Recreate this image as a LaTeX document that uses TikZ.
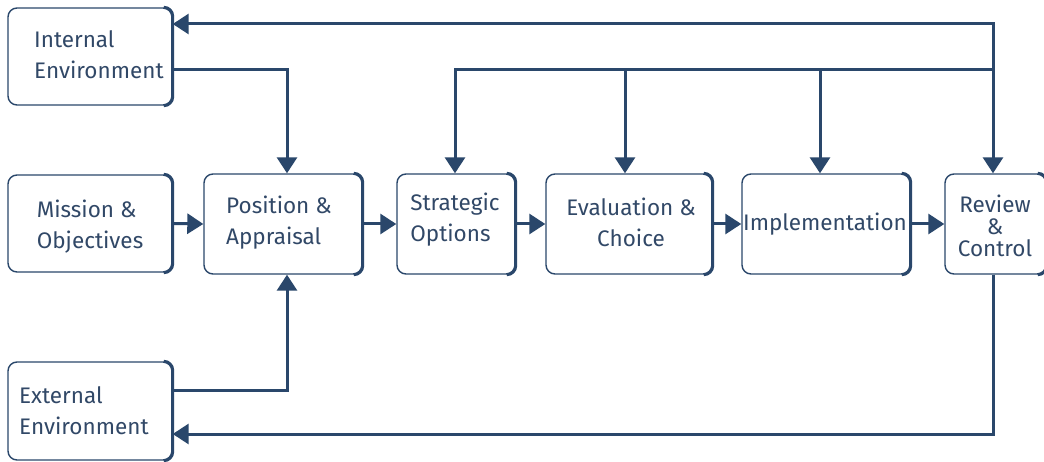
\documentclass[tikz,border=0pt]{standalone}
\usepackage{fontspec}
\setmainfont{Fira Sans}
\usetikzlibrary{arrows.meta}
\definecolor{navy}{HTML}{2A476B}
\definecolor{ink}{HTML}{314867}
\begin{document}
\begin{tikzpicture}[x=1pt,y=-1pt,
  box/.style={draw=navy, line width=1.4pt, rounded corners=9pt, inner sep=0pt},
  txt/.style={font=\fontsize{22.5}{31}\selectfont, text=ink, align=left, inner sep=0pt},
  tight/.style={font=\fontsize{22.5}{22}\selectfont, text=ink, align=center, inner sep=0pt},
  arr/.style={draw=navy, line width=3pt, -{Triangle[length=16pt,width=20pt]}},
  dblarr/.style={draw=navy, line width=3pt, {Triangle[length=16pt,width=20pt]}-{Triangle[length=16pt,width=20pt]}}]
\useasboundingbox[fill=white] (0,0) rectangle (1044,462);

% boxes
\node[box, minimum width=164pt, minimum height=97pt]  (int) at (90,56.5) {};
\node[box, minimum width=164pt, minimum height=97pt]  (mis) at (90,223.5) {};
\node[box, minimum width=158pt, minimum height=100pt] (pos) at (283,224) {};
\node[box, minimum width=118pt, minimum height=100pt] (str) at (456,224) {};
\node[box, minimum width=166pt, minimum height=100pt] (eva) at (629,224) {};
\node[box, minimum width=168pt, minimum height=100pt] (imp) at (826,224) {};
\node[box, minimum width=101pt, minimum height=100pt] (rev) at (995.5,224) {};
\node[box, minimum width=164pt, minimum height=98pt]  (ext) at (90,411) {};

% heavier right edge on every box
\foreach \n in {int,mis,pos,str,eva,imp,rev,ext}{
  \draw[navy, line width=3pt, rounded corners=9pt]
    ([xshift=-9pt]\n.north east) -- (\n.north east) -- (\n.south east) -- ([xshift=-9pt]\n.south east);
}

% labels
\node[txt, anchor=west] (intT) at (34,55) {Internal\\Environment};
\node[txt] (misT) at (90,226.5) {Mission \&\\Objectives};
\node[txt] (posT) at (279,222.5) {Position \&\\Appraisal};
\node[txt] (strT) at (455,220) {Strategic\\Options};
\node[txt, align=center] (evaT) at (631,222.5) {Evaluation \&\\Choice};
\node[txt] (impT) at (825,224) {Implementation};
\node[tight] (revT) at (995,226) {Review\\\&\\Control};
\node[txt, anchor=west] (extT) at (19,410.5) {External\\Environment};

% forward chain
\draw[arr] (mis.east) -- (pos.west);
\draw[arr] (pos.east) -- (str.west);
\draw[arr] (str.east) -- (eva.west);
\draw[arr] (eva.east) -- (imp.west);
\draw[arr] (imp.east) -- (rev.west);

% environments into position & appraisal
\draw[arr] ([yshift=-13.5pt]int.east) -| ([xshift=4pt]pos.north);
\draw[arr] ([yshift=21pt]ext.east) -| ([xshift=4pt]pos.south);

% review feedback loops
\draw[dblarr] ([yshift=32.5pt]int.east) -| ([xshift=-2.5pt]rev.north);
\coordinate (fb) at ([xshift=-2.5pt]rev.north |- 0,70);
\draw[arr] (fb) -| ([xshift=-1pt]str.north);
\draw[arr] (fb) -| ([xshift=-4pt]eva.north);
\draw[arr] (fb) -| ([xshift=-6pt]imp.north);
\draw[arr] ([xshift=-2.5pt]rev.south) |- ([yshift=-23pt]ext.east);
\end{tikzpicture}
\end{document}
